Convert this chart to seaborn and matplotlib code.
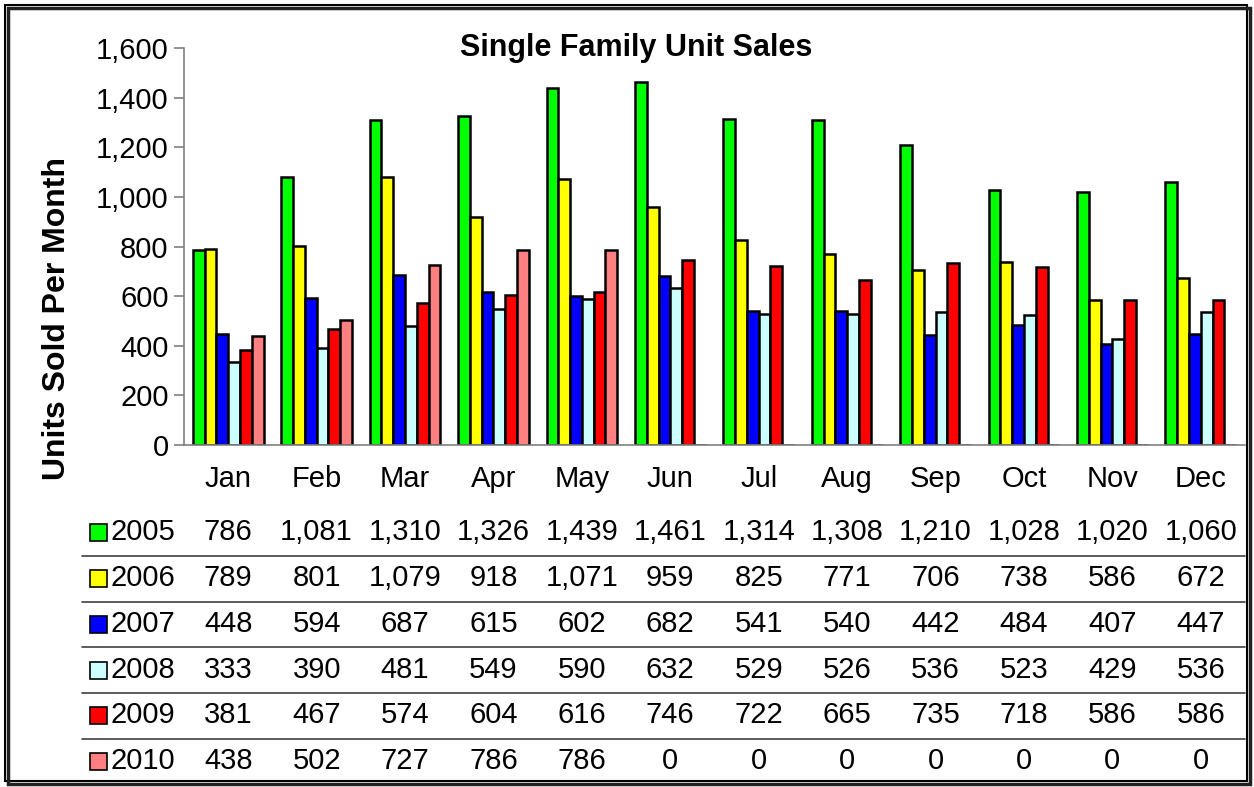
import pandas as pd
import matplotlib.pyplot as plt
import seaborn as sns
from matplotlib.patches import Rectangle
from matplotlib.lines import Line2D
from matplotlib.ticker import FuncFormatter
from matplotlib.transforms import blended_transform_factory

# данные с графика
months = ['Jan', 'Feb', 'Mar', 'Apr', 'May', 'Jun', 'Jul', 'Aug', 'Sep', 'Oct', 'Nov', 'Dec']
years = ['2005', '2006', '2007', '2008', '2009', '2010']
s2005 = [786, 1081, 1310, 1326, 1439, 1461, 1314, 1308, 1210, 1028, 1020, 1060]
s2006 = [789, 801, 1079, 918, 1071, 959, 825, 771, 706, 738, 586, 672]
s2007 = [448, 594, 687, 615, 602, 682, 541, 540, 442, 484, 407, 447]
s2008 = [333, 390, 481, 549, 590, 632, 529, 526, 536, 523, 429, 536]
s2009 = [381, 467, 574, 604, 616, 746, 722, 665, 735, 718, 586, 586]
s2010 = [438, 502, 727, 786, 786, 0, 0, 0, 0, 0, 0, 0]
colors = ['#00FF00', '#FFFF00', '#0000FF', '#CCFFFF', '#FF0000', '#FF8080']

series = [s2005, s2006, s2007, s2008, s2009, s2010]
rows = []
for y, vals in zip(years, series):
    for m, v in zip(months, vals):
        rows.append({'month': m, 'year': y, 'units': v})
df = pd.DataFrame(rows)

sns.set_style('white')
plt.rcParams['font.family'] = ['Liberation Sans', 'DejaVu Sans']
plt.rcParams['text.color'] = 'black'
plt.rcParams['xtick.color'] = 'black'
plt.rcParams['ytick.color'] = 'black'

fig = plt.figure(figsize=(12.54, 7.87), dpi=100)
ax = fig.add_axes([184 / 1254, 1 - 445 / 787, (1245 - 184) / 1254, (445 - 48) / 787])

sns.barplot(data=df, x='month', y='units', hue='year', order=months, hue_order=years,
            palette=colors, saturation=1, edgecolor='black', linewidth=1.8, width=0.8,
            legend=False, ax=ax)

ax.set_ylim(0, 1600)
ax.set_yticks(range(0, 1601, 200))
ax.yaxis.set_major_formatter(FuncFormatter(lambda v, p: f'{int(v):,}'))
ax.set_xlabel('')
ax.set_ylabel('')
for s in ['top', 'right']:
    ax.spines[s].set_visible(False)
for s in ['left', 'bottom']:
    ax.spines[s].set_color('#808080')
    ax.spines[s].set_linewidth(1.2)
ax.tick_params(axis='y', which='major', left=True, length=7, width=1.2, color='#808080',
               labelcolor='black', labelsize=21, pad=4)
ax.tick_params(axis='x', bottom=False, labelcolor='black', labelsize=21, pad=11)

fig.text(57 / 1254, 1 - 318 / 787, 'Units Sold Per Month', rotation=90, ha='center',
         va='center', fontsize=23, fontweight='bold')
fig.text(636 / 1254, 1 - 48 / 787, 'Single Family Unit Sales', ha='center', va='center',
         fontsize=22, fontweight='bold')

# таблица данных под графиком
tr = blended_transform_factory(ax.transData, fig.transFigure)
row_y = [532, 578, 624, 670, 715, 761]
for i, (y, vals) in enumerate(zip(years, series)):
    yy = 1 - row_y[i] / 787
    fig.patches.append(Rectangle((90 / 1254, yy - 8.5 / 787), 17 / 1254, 17 / 787,
                                 transform=fig.transFigure, facecolor=colors[i],
                                 edgecolor='black', linewidth=1.2))
    fig.text(111 / 1254, yy, y, ha='left', va='center', fontsize=21)
    for j, v in enumerate(vals):
        ax.text(j, yy, f'{v:,}', transform=tr, ha='center', va='center', fontsize=21,
                clip_on=False)
for ly in [556, 602, 647, 693, 739]:
    fig.lines.append(Line2D([82 / 1254, 1245 / 1254], [1 - ly / 787, 1 - ly / 787],
                            transform=fig.transFigure, color='#404040', linewidth=1.2))

# рамка с тенью
fig.patches.append(Rectangle((8 / 1254, 1 - 784 / 787), 1242 / 1254, 776 / 787,
                             transform=fig.transFigure, facecolor='none',
                             edgecolor='#202020', linewidth=2.5))
fig.patches.append(Rectangle((5 / 1254, 1 - 781 / 787), 1242 / 1254, 776 / 787,
                             transform=fig.transFigure, facecolor='white',
                             edgecolor='black', linewidth=1.5, zorder=-10))

fig.savefig('out.png', dpi=100)
